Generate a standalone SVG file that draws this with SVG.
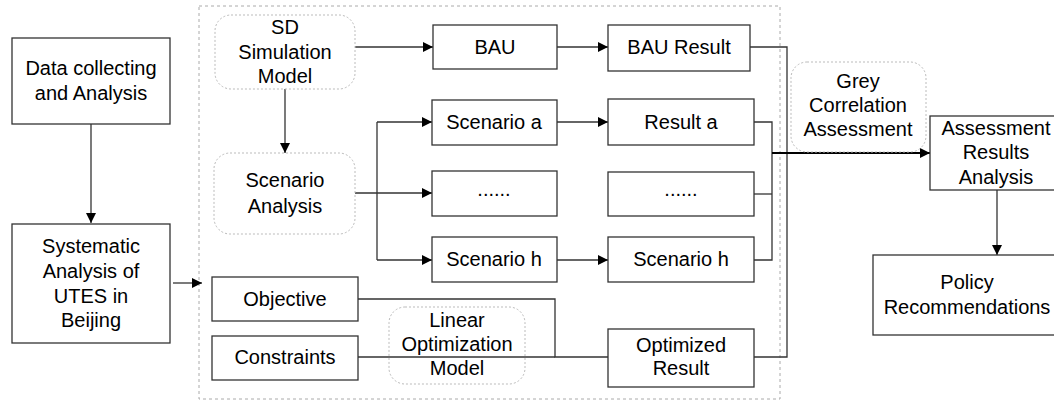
<svg xmlns="http://www.w3.org/2000/svg" width="1054" height="400" viewBox="0 0 1054 400">
<defs>
<marker id="arr" markerUnits="userSpaceOnUse" markerWidth="11" markerHeight="11" refX="10" refY="5" orient="auto">
<path d="M0,0 L10,5 L0,10 z" fill="#000"/>
</marker>
<style>
.box{fill:#fff;stroke:#333;stroke-width:1.3}
.rbox{fill:#fff;stroke:#bbb;stroke-width:1;stroke-dasharray:2,2}
.cont{fill:none;stroke:#aaa;stroke-width:1;stroke-dasharray:3,3}
.t{font-family:"Liberation Sans",Arial,sans-serif;font-size:20px;fill:#000;text-anchor:middle}
.c{fill:none;stroke:#333;stroke-width:1.3}
.cb{fill:none;stroke:#000;stroke-width:2.2}
</style>
</defs>
<rect width="1054" height="400" fill="#fff"/>
<rect class="cont" x="199" y="6" width="581" height="393"/>

<g id="connectors">
<path class="c" d="M91,124 V223" marker-end="url(#arr)"/>
<path class="c" d="M173,283 H202" marker-end="url(#arr)"/>
<path class="c" d="M355,47 H433" marker-end="url(#arr)"/>
<path class="c" d="M557,47 H608" marker-end="url(#arr)"/>
<path class="c" d="M285,89 V153" marker-end="url(#arr)"/>
<path class="c" d="M355,193 H432" marker-end="url(#arr)"/>
<path class="c" d="M377,122 V260"/>
<path class="c" d="M377,122 H432" marker-end="url(#arr)"/>
<path class="c" d="M377,260 H432" marker-end="url(#arr)"/>
<path class="c" d="M557,122 H608" marker-end="url(#arr)"/>
<path class="c" d="M557,260 H608" marker-end="url(#arr)"/>
<path class="c" d="M754,122 H772 V260 H754"/>
<path class="c" d="M754,194 H772"/>
<path class="c" d="M750,47 H787 V357 H754"/>
<path class="c" d="M358,299 H555 V357 H608"/>
<path class="c" d="M358,357 H555"/>
<path class="c" d="M997,190 V255" marker-end="url(#arr)"/>
<path class="cb" d="M772,153 H930" marker-end="url(#arr)"/>
</g>

<g id="data">
<rect class="box" x="12" y="38" width="158" height="86"/>
<text class="t" x="91" y="75">Data collecting</text>
<text class="t" x="91" y="100">and Analysis</text>
</g>
<g id="systematic">
<rect class="box" x="12" y="224" width="158" height="119"/>
<text class="t" x="91" y="253">Systematic</text>
<text class="t" x="91" y="278">Analysis of</text>
<text class="t" x="91" y="303">UTES in</text>
<text class="t" x="91" y="327">Beijing</text>
</g>
<g id="sd">
<rect class="rbox" x="215" y="15" width="140" height="74" rx="16"/>
<text class="t" x="285" y="34">SD</text>
<text class="t" x="285" y="59">Simulation</text>
<text class="t" x="285" y="83">Model</text>
</g>
<g id="scenarioAnalysis">
<rect class="rbox" x="214" y="153" width="141" height="81" rx="16"/>
<text class="t" x="285" y="187">Scenario</text>
<text class="t" x="285" y="213">Analysis</text>
</g>
<g id="bau">
<rect class="box" x="433" y="25" width="124" height="44"/>
<text class="t" x="495" y="54">BAU</text>
</g>
<g id="bauResult">
<rect class="box" x="608" y="25" width="142" height="46"/>
<text class="t" x="679" y="54">BAU Result</text>
</g>
<g id="scenarioA">
<rect class="box" x="432" y="100" width="125" height="45"/>
<text class="t" x="494" y="129">Scenario a</text>
</g>
<g id="resultA">
<rect class="box" x="608" y="99" width="146" height="46"/>
<text class="t" x="681" y="129">Result a</text>
</g>
<g id="scenarioDots">
<rect class="box" x="432" y="171" width="125" height="45"/>
<text class="t" x="494" y="196">......</text>
</g>
<g id="resultDots">
<rect class="box" x="608" y="172" width="146" height="44"/>
<text class="t" x="681" y="196">......</text>
</g>
<g id="scenarioH">
<rect class="box" x="432" y="237" width="125" height="45"/>
<text class="t" x="494" y="266">Scenario h</text>
</g>
<g id="resultH">
<rect class="box" x="608" y="237" width="146" height="45"/>
<text class="t" x="681" y="266">Scenario h</text>
</g>
<g id="objective">
<rect class="box" x="212" y="277" width="146" height="44"/>
<text class="t" x="285" y="306">Objective</text>
</g>
<g id="constraints">
<rect class="box" x="212" y="336" width="146" height="44"/>
<text class="t" x="285" y="364">Constraints</text>
</g>
<g id="linear">
<rect class="rbox" x="389" y="307" width="136" height="77" rx="16" style="fill:none"/>
<text class="t" x="457" y="327">Linear</text>
<text class="t" x="457" y="351">Optimization</text>
<text class="t" x="457" y="375">Model</text>
</g>
<g id="optimized">
<rect class="box" x="608" y="329" width="146" height="58"/>
<text class="t" x="681" y="352">Optimized</text>
<text class="t" x="681" y="375">Result</text>
</g>
<g id="grey">
<rect class="rbox" x="791" y="62" width="135" height="90" rx="16"/>
<text class="t" x="858" y="88">Grey</text>
<text class="t" x="858" y="112">Correlation</text>
<text class="t" x="858" y="136">Assessment</text>
</g>
<g id="assessment">
<rect class="box" x="930" y="116" width="132" height="74"/>
<text class="t" x="996" y="135">Assessment</text>
<text class="t" x="996" y="159">Results</text>
<text class="t" x="996" y="184">Analysis</text>
</g>
<g id="policy">
<rect class="box" x="873" y="255" width="188" height="80"/>
<text class="t" x="967" y="289">Policy</text>
<text class="t" x="967" y="314">Recommendations</text>
</g>
</svg>
